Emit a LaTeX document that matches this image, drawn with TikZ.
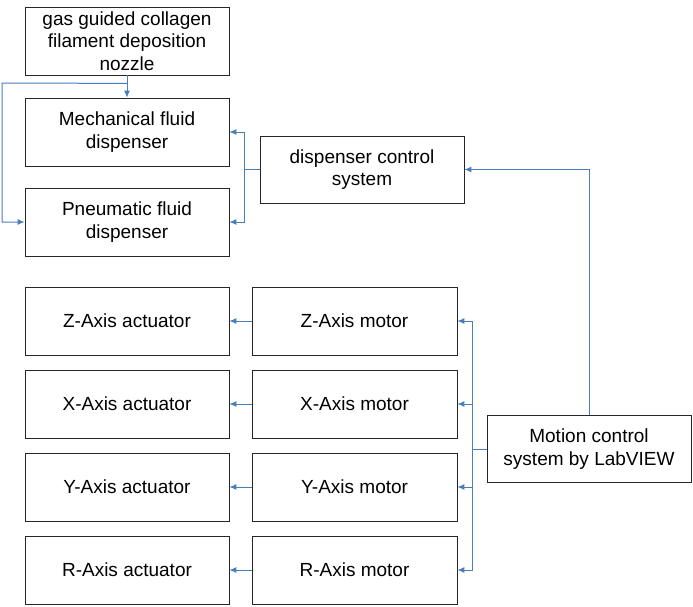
\documentclass[tikz,border=0pt]{standalone}
\usepackage{fontspec}
\setmainfont{Liberation Sans}
\usetikzlibrary{arrows.meta,calc}
\definecolor{linkblue}{RGB}{74,126,187}

\begin{document}
\begin{tikzpicture}[x=1pt,y=-1pt,
	box/.style={draw=black!85,line width=0.8pt,minimum width=204pt,minimum height=68pt,inner sep=0pt,align=center,font=\fontsize{19}{22.5}\selectfont},
	link/.style={draw=linkblue,line width=1pt,-{Latex[length=7pt,width=6pt]}},
	wire/.style={draw=linkblue,line width=1pt}]
	\useasboundingbox (0,0) rectangle (693,606);
	\node[box] (nozzle) at (127,41) {gas guided collagen\\filament deposition\\nozzle};
	\node[box] (mech) at (127,132) {Mechanical fluid\\dispenser};
	\node[box] (pneu) at (127,222) {Pneumatic fluid\\dispenser};
	\node[box,minimum height=67pt] (disp) at (362,169.5) {dispenser control\\system};
	\node[box] (zact) at (127,321) {Z-Axis actuator};
	\node[box] (xact) at (127,404) {X-Axis actuator};
	\node[box] (yact) at (127,487) {Y-Axis actuator};
	\node[box] (ract) at (127,570) {R-Axis actuator};
	\node[box,minimum width=205pt] (zmot) at (354.5,321) {Z-Axis motor};
	\node[box,minimum width=205pt] (xmot) at (354.5,404) {X-Axis motor};
	\node[box,minimum width=205pt] (ymot) at (354.5,487) {Y-Axis motor};
	\node[box,minimum width=205pt] (rmot) at (354.5,570) {R-Axis motor};
	\node[box,minimum height=67pt] (motion) at (589,449) {Motion control\\system by LabVIEW};
	\coordinate (split) at ($(nozzle.south)+(0,8)$);
	\coordinate (lft) at (2,83);
	\coordinate (dbus) at (244,169.5);
	\coordinate (mbus) at (472,449);
	\draw[link] (nozzle.south) -- (mech.north);
	\draw[link] (split) -- (lft) |- (pneu.west);
	\draw[wire] (disp.west) -- (dbus);
	\draw[link] (dbus) |- (mech.east);
	\draw[link] (dbus) |- (pneu.east);
	\draw[link] (motion.north) |- (disp.east);
	\draw[wire] (motion.west) -- (mbus);
	\draw[link] (mbus) |- (zmot.east);
	\draw[link] (mbus) |- (xmot.east);
	\draw[link] (mbus) |- (ymot.east);
	\draw[link] (mbus) |- (rmot.east);
	\draw[link] (zmot) -- (zact);
	\draw[link] (xmot) -- (xact);
	\draw[link] (ymot) -- (yact);
	\draw[link] (rmot) -- (ract);
\end{tikzpicture}
\end{document}
